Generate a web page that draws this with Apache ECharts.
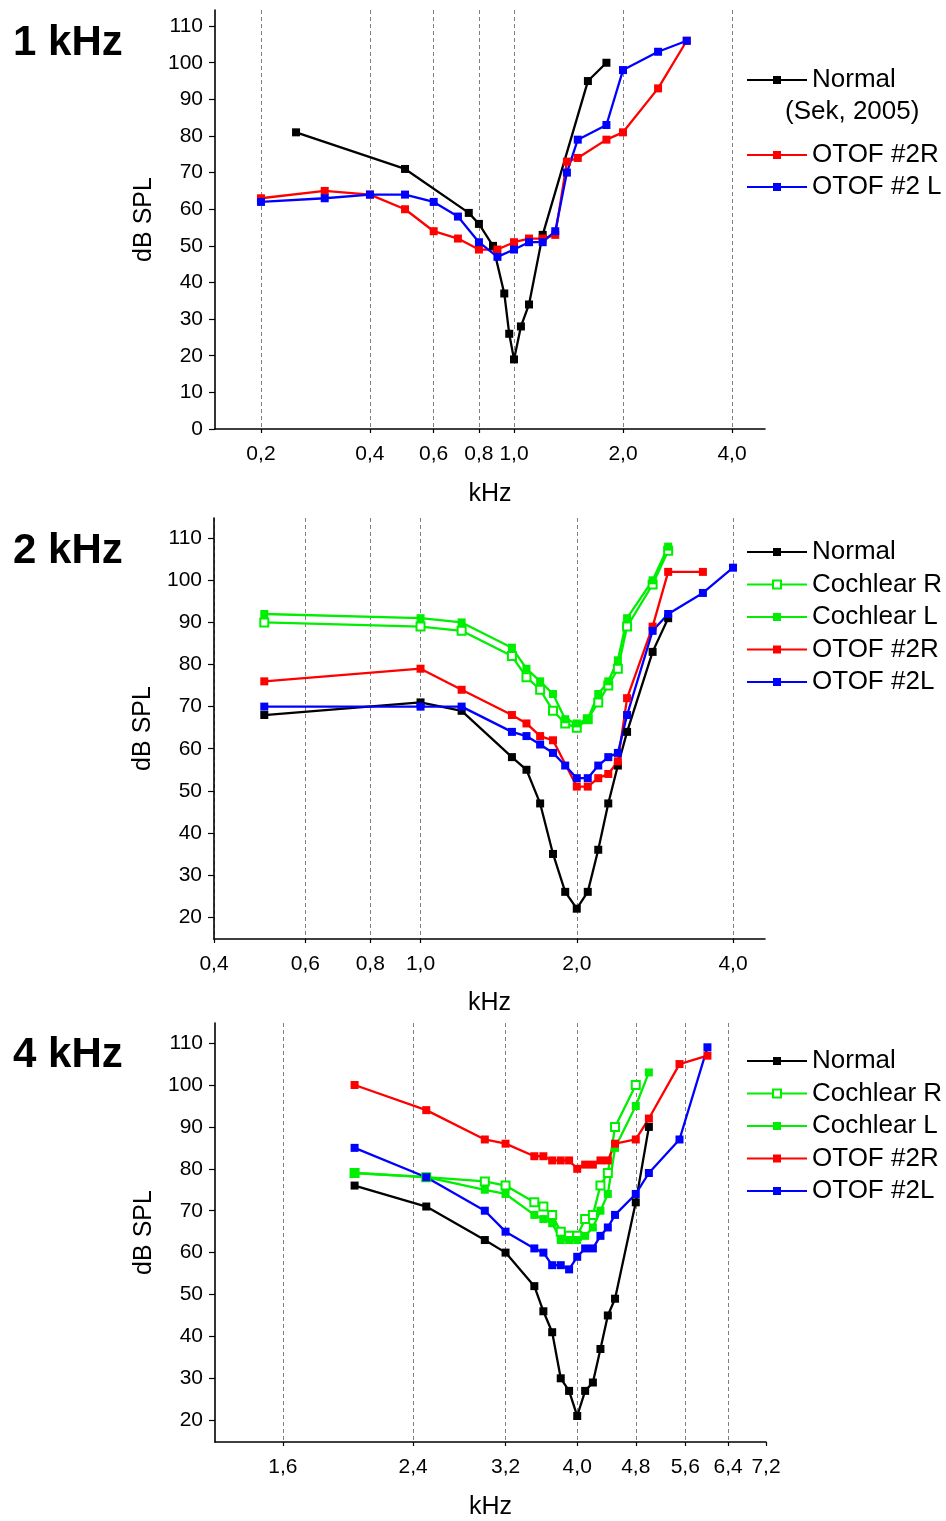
<!DOCTYPE html>
<html>
<head>
<meta charset="utf-8">
<script src="https://cdn.jsdelivr.net/npm/echarts@6/dist/echarts.min.js"></script>
<style>
html,body{margin:0;padding:0;background:#fff;}
#c{width:946px;height:1521px;}
</style>
</head>
<body>
<div id="c"></div>
<script>
// ---------- Panel 1: 1 kHz ----------
const p1NormalF = [0.25, 0.5, 0.75, 0.8, 0.875, 0.94, 0.97, 1.0, 1.045, 1.1, 1.2, 1.6, 1.8];
const p1NormalV = [81, 71, 59, 56, 50, 37, 26, 19, 28, 34, 53, 95, 100];
const p1RF = [0.2, 0.3, 0.4, 0.5, 0.6, 0.7, 0.8, 0.9, 1.0, 1.1, 1.2, 1.3, 1.4, 1.5, 1.8, 2.0, 2.5, 3.0];
const p1RV = [63, 65, 64, 60, 54, 52, 49, 49, 51, 52, 52, 53, 73, 74, 79, 81, 93, 106];
const p1LF = [0.2, 0.3, 0.4, 0.5, 0.6, 0.7, 0.8, 0.9, 1.0, 1.1, 1.2, 1.3, 1.4, 1.5, 1.8, 2.0, 2.5, 3.0];
const p1LV = [62, 63, 64, 64, 62, 58, 51, 47, 49, 51, 51, 54, 70, 79, 83, 98, 103, 106];
const p1XTicks = [0.2, 0.4, 0.6, 0.8, 1.0, 2.0, 4.0];
const p1YTicks = [0, 10, 20, 30, 40, 50, 60, 70, 80, 90, 100, 110];

// ---------- Panel 2: 2 kHz ----------
const p2NormalF = [0.5, 1.0, 1.2, 1.5, 1.6, 1.7, 1.8, 1.9, 2.0, 2.1, 2.2, 2.3, 2.4, 2.5, 2.8, 3.0];
const p2NormalV = [68, 71, 69, 58, 55, 47, 35, 26, 22, 26, 36, 47, 56, 64, 83, 91];
const p2CochRF = [0.5, 1.0, 1.2, 1.5, 1.6, 1.7, 1.8, 1.9, 2.0, 2.1, 2.2, 2.3, 2.4, 2.5, 2.8, 3.0];
const p2CochRV = [90, 89, 88, 82, 77, 74, 69, 66, 65, 67, 71, 75, 79, 89, 99, 107];
const p2CochLF = [0.5, 1.0, 1.2, 1.5, 1.6, 1.7, 1.8, 1.9, 2.0, 2.1, 2.2, 2.3, 2.4, 2.5, 2.8, 3.0];
const p2CochLV = [92, 91, 90, 84, 79, 76, 73, 67, 66, 67, 73, 76, 81, 91, 100, 108];
const p2RF = [0.5, 1.0, 1.2, 1.5, 1.6, 1.7, 1.8, 2.0, 2.1, 2.2, 2.3, 2.4, 2.5, 2.8, 3.0, 3.5];
const p2RV = [76, 79, 74, 68, 66, 63, 62, 51, 51, 53, 54, 57, 72, 89, 102, 102];
const p2LF = [0.5, 1.0, 1.2, 1.5, 1.6, 1.7, 1.8, 1.9, 2.0, 2.1, 2.2, 2.3, 2.4, 2.5, 2.8, 3.0, 3.5, 4.0];
const p2LV = [70, 70, 70, 64, 63, 61, 59, 56, 53, 53, 56, 58, 59, 68, 88, 92, 97, 103];
const p2XTicks = [0.4, 0.6, 0.8, 1.0, 2.0, 4.0];
const p2YTicks = [20, 30, 40, 50, 60, 70, 80, 90, 100, 110];

// ---------- Panel 3: 4 kHz ----------
const p3NormalF = [2.0, 2.5, 3.0, 3.2, 3.5, 3.6, 3.7, 3.8, 3.9, 4.0, 4.1, 4.2, 4.3, 4.4, 4.5, 4.8, 5.0];
const p3NormalV = [76, 71, 63, 60, 52, 46, 41, 30, 27, 21, 27, 29, 37, 45, 49, 72, 90];
const p3CochRF = [2.0, 2.5, 3.0, 3.2, 3.5, 3.6, 3.7, 3.8, 3.9, 4.0, 4.1, 4.2, 4.3, 4.4, 4.5, 4.8];
const p3CochRV = [79, 78, 77, 76, 72, 71, 69, 65, 64, 64, 68, 69, 76, 79, 90, 100];
const p3CochLF = [2.0, 2.5, 3.0, 3.2, 3.5, 3.6, 3.7, 3.8, 3.9, 4.0, 4.1, 4.2, 4.3, 4.4, 4.5, 4.8, 5.0];
const p3CochLV = [79, 78, 75, 74, 69, 68, 67, 63, 63, 63, 64, 66, 70, 74, 85, 95, 103];
const p3RF = [2.0, 2.5, 3.0, 3.2, 3.5, 3.6, 3.7, 3.8, 3.9, 4.0, 4.1, 4.2, 4.3, 4.4, 4.5, 4.8, 5.0, 5.5, 6.0];
const p3RV = [100, 94, 87, 86, 83, 83, 82, 82, 82, 80, 81, 81, 82, 82, 86, 87, 92, 105, 107];
const p3LF = [2.0, 2.5, 3.0, 3.2, 3.5, 3.6, 3.7, 3.8, 3.9, 4.0, 4.1, 4.2, 4.3, 4.4, 4.5, 4.8, 5.0, 5.5, 6.0];
const p3LV = [85, 78, 70, 65, 61, 60, 57, 57, 56, 59, 61, 61, 64, 66, 69, 74, 79, 87, 109];
const p3XTicks = [1.6, 2.4, 3.2, 4.0, 4.8, 5.6, 6.4, 7.2];
const p3YTicks = [20, 30, 40, 50, 60, 70, 80, 90, 100, 110];

const BLACK = '#000000', RED = '#ff0000', BLUE = '#0000ff', GREEN = '#00ee00';
const FONT = "'Liberation Sans', Arial, sans-serif";

function pairs(f, v) { return f.map((x, i) => [x, v[i]]); }

function mkSeries(name, f, v, color, idx, hollow) {
  return {
    type: 'line', name: name, xAxisIndex: idx, yAxisIndex: idx,
    data: pairs(f, v),
    symbol: hollow ? 'emptyRect' : 'rect',
    symbolSize: 8,
    showSymbol: true,
    lineStyle: { color: color, width: 2.3 },
    itemStyle: { color: color, borderWidth: 1.5 },
    emphasis: { disabled: true },
    animation: false
  };
}

function mkX(idx, min, max, ticks, nameGap, showMin, showMax) {
  return {
    type: 'log', logBase: 10, gridIndex: idx, min: min, max: max,
    name: 'kHz', nameLocation: 'middle', nameGap: nameGap,
    nameTextStyle: { fontSize: 25, color: '#000', fontFamily: FONT },
    axisLine: { show: true, onZero: false, lineStyle: { color: '#000', width: 1.6 } },
    axisTick: { show: true, inside: false, length: 4, customValues: ticks, lineStyle: { color: '#000', width: 1.2 } },
    axisLabel: { show: true, customValues: ticks, margin: 15, fontSize: 21, color: '#000', fontFamily: FONT,
      formatter: function (v) { return Number(v).toFixed(1).replace('.', ','); } },
    splitLine: { show: true, showMinLine: showMin, showMaxLine: showMax,
      lineStyle: { color: '#808080', width: 1, type: [4, 3] } },
    minorTick: { show: false }, minorSplitLine: { show: false }
  };
}

function mkY(idx, min, max, ticks) {
  return {
    type: 'value', gridIndex: idx, min: min, max: max,
    name: 'dB SPL', nameLocation: 'middle', nameGap: 53, nameRotate: 90,
    nameTextStyle: { fontSize: 25, color: '#000', fontFamily: FONT },
    axisLine: { show: true, onZero: false, lineStyle: { color: '#000', width: 1.6 } },
    axisTick: { show: true, inside: false, length: 6, customValues: ticks, lineStyle: { color: '#000', width: 1.2 } },
    axisLabel: { show: true, customValues: ticks, margin: 12, fontSize: 21, color: '#000', fontFamily: FONT },
    splitLine: { show: false }
  };
}

const legendBase = {
  orient: 'vertical', left: 741, itemWidth: 60, itemHeight: 10, itemGap: 4.5,
  selectedMode: false,
  textStyle: { fontSize: 26, lineHeight: 28, color: '#000', fontFamily: FONT }
};

const titleStyle = { fontSize: 42, fontWeight: 'bold', color: '#000', fontFamily: FONT };

const option = {
  animation: false,
  backgroundColor: '#fff',
  textStyle: { fontFamily: FONT },
  title: [
    { text: '1 kHz', left: 8, top: 17, textStyle: titleStyle },
    { text: '2 kHz', left: 8, top: 525, textStyle: titleStyle },
    { text: '4 kHz', left: 8, top: 1029, textStyle: titleStyle }
  ],
  grid: [
    { left: 215, top: 10, width: 550, height: 419 },
    { left: 214, top: 518, width: 551, height: 421 },
    { left: 215, top: 1023, width: 551, height: 421 }
  ],
  xAxis: [
    mkX(0, 0.1493, 4.935, p1XTicks, 53, true, true),
    mkX(1, 0.4, 4.61, p2XTicks, 52, true, true),
    mkX(2, 1.295, 7.2, p3XTicks, 53, true, false)
  ],
  yAxis: [
    mkY(0, 0, 114.4, p1YTicks),
    mkY(1, 14.8, 114.8, p2YTicks),
    mkY(2, 14.8, 114.8, p3YTicks)
  ],
  legend: [
    Object.assign({}, legendBase, { top: 61, data: ['Normal'] }),
    Object.assign({}, legendBase, { top: 136, itemGap: 4, data: ['OTOF #2R', 'OTOF #2 L'] }),
    Object.assign({}, legendBase, { top: 533, data: ['Normal', 'Cochlear R', 'Cochlear L', 'OTOF #2R', 'OTOF #2L'] }),
    Object.assign({}, legendBase, { top: 1042, data: ['Normal', 'Cochlear R', 'Cochlear L', 'OTOF #2R', 'OTOF #2L'] })
  ],
  graphic: [
    { type: 'text', left: 785, top: 99, style: { text: '(Sek, 2005)', fontSize: 26, fill: '#000', fontFamily: FONT } }
  ],
  series: [
    mkSeries('Normal', p1NormalF, p1NormalV, BLACK, 0),
    mkSeries('OTOF #2R', p1RF, p1RV, RED, 0),
    mkSeries('OTOF #2 L', p1LF, p1LV, BLUE, 0),

    mkSeries('Normal', p2NormalF, p2NormalV, BLACK, 1),
    mkSeries('Cochlear R', p2CochRF, p2CochRV, GREEN, 1, true),
    mkSeries('Cochlear L', p2CochLF, p2CochLV, GREEN, 1),
    mkSeries('OTOF #2R', p2RF, p2RV, RED, 1),
    mkSeries('OTOF #2L', p2LF, p2LV, BLUE, 1),

    mkSeries('Normal', p3NormalF, p3NormalV, BLACK, 2),
    mkSeries('Cochlear R', p3CochRF, p3CochRV, GREEN, 2, true),
    mkSeries('Cochlear L', p3CochLF, p3CochLV, GREEN, 2),
    mkSeries('OTOF #2R', p3RF, p3RV, RED, 2),
    mkSeries('OTOF #2L', p3LF, p3LV, BLUE, 2)
  ]
};

const chart = echarts.init(document.getElementById('c'), null, { renderer: 'canvas' });
chart.setOption(option);
</script>
</body>
</html>
